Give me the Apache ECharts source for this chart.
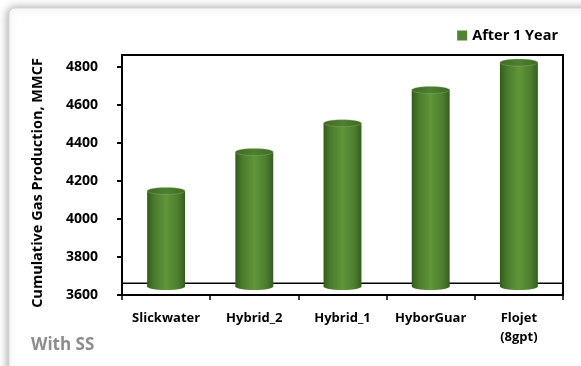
<!DOCTYPE html>
<html>
<head>
<meta charset="utf-8">
<script src="https://cdn.jsdelivr.net/npm/echarts@6/dist/echarts.min.js"></script>
<style>
  html, body { margin: 0; padding: 0; background: #fff; }
  #chart { width: 581px; height: 366px; }
</style>
</head>
<body>
<div id="chart"></div>
<script>
// Fracturing fluid systems compared
const categories = ['Slickwater', 'Hybrid_2', 'Hybrid_1', 'HyborGuar', 'Flojet\n(8gpt)'];
// Cumulative gas production after one year, MMCF
const afterOneYear = [4148, 4353, 4505, 4680, 4824];
// Value-axis ticks
const yTicks = [3600, 3800, 4000, 4200, 4400, 4600, 4800];

const Y_MIN = 3600, Y_MAX = 4864, Y_STEP = 200;
const FLOOR = 3662;      // back edge of the 3D floor
const BAR_BASE = 3645;   // where the cylinders stand

const FONT = '"Open Sans", "Noto Sans", sans-serif';

const chart = echarts.init(document.getElementById('chart'));

const bodyFill = new echarts.graphic.LinearGradient(0, 0, 1, 0, [
  { offset: 0, color: '#345a1d' },
  { offset: 0.18, color: '#4a7a2c' },
  { offset: 0.5, color: '#609639' },
  { offset: 0.82, color: '#4c7d2e' },
  { offset: 1, color: '#365c1f' }
]);
const capFill = new echarts.graphic.LinearGradient(0, 0, 1, 0, [
  { offset: 0, color: '#3f6a25' },
  { offset: 0.5, color: '#4f7f30' },
  { offset: 1, color: '#3f6a25' }
]);

function cylinder(params, api) {
  const idx = api.value(0);
  const val = api.value(1);
  const top = api.coord([idx, val]);
  const base = api.coord([idx, BAR_BASE]);
  const w = api.size([1, 0])[0] * 0.43;
  const rx = w / 2, ry = 3.5;
  return {
    type: 'group',
    children: [
      { type: 'ellipse', shape: { cx: base[0], cy: base[1], rx: rx, ry: ry }, style: { fill: bodyFill } },
      { type: 'rect', shape: { x: top[0] - rx, y: top[1], width: w, height: base[1] - top[1] }, style: { fill: bodyFill } },
      { type: 'ellipse', shape: { cx: top[0], cy: top[1], rx: rx, ry: ry }, style: { fill: capFill, stroke: 'rgba(150,190,120,0.6)', lineWidth: 0.6 } }
    ]
  };
}

// back edge of the floor, spanning the plot width
function floorEdge(params, api) {
  const cs = params.coordSys;
  const y = api.coord([0, api.value(0)])[1];
  return {
    type: 'line',
    shape: { x1: cs.x, y1: y, x2: cs.x + cs.width, y2: y },
    style: { stroke: '#000', lineWidth: 1.5 }
  };
}

chart.setOption({
  animation: false,
  backgroundColor: '#ffffff',
  graphic: [
    {
      type: 'rect', z: -10,
      shape: { x: 9, y: 8, width: 640, height: 420, r: 6 },
      style: { fill: '#fff', stroke: '#d6d6d6', lineWidth: 1, shadowBlur: 8, shadowColor: 'rgba(0,0,0,0.35)', shadowOffsetX: -1, shadowOffsetY: 0 }
    },
    {
      type: 'text', x: 38, y: 183, rotation: Math.PI / 2,
      style: { text: 'Cumulative Gas Production, MMCF', font: 'bold 14.5px ' + FONT, fill: '#000', align: 'center', verticalAlign: 'middle' }
    },
    {
      type: 'text', left: 31, top: 337,
      style: { text: 'With SS', font: 'bold 17px ' + FONT, fill: '#8c8c8c' }
    }
  ],
  legend: {
    right: 18, top: 23,
    itemWidth: 10, itemHeight: 10, itemGap: 3,
    icon: 'rect',
    textStyle: { fontFamily: FONT, fontWeight: 'bold', fontSize: 14.5, color: '#000' },
    data: [{ name: 'After 1 Year', itemStyle: { color: '#4f8431' } }]
  },
  grid: {
    left: 122, right: 18, top: 55, bottom: 71,
    show: true, borderColor: '#000', borderWidth: 2, backgroundColor: 'transparent'
  },
  xAxis: {
    type: 'category',
    data: categories,
    axisLine: { lineStyle: { color: '#000', width: 2 } },
    axisTick: { show: true, alignWithLabel: false, interval: 0, length: 5, lineStyle: { color: '#000', width: 1.5 } },
    axisLabel: { interval: 0, margin: 14, color: '#000', fontFamily: FONT, fontWeight: 'bold', fontSize: 13, lineHeight: 19 }
  },
  yAxis: {
    type: 'value',
    min: Y_MIN, max: Y_MAX, interval: Y_STEP,
    splitLine: { show: false },
    axisLine: { show: true, lineStyle: { color: '#000', width: 2 } },
    axisTick: { show: true, length: 5, lineStyle: { color: '#000', width: 2 }, customValues: yTicks },
    axisLabel: { margin: 24, color: '#000', fontFamily: FONT, fontWeight: 'bold', fontSize: 14, customValues: yTicks, formatter: v => String(v) }
  },
  series: [
    {
      type: 'custom', silent: true, z: 1,
      renderItem: floorEdge,
      data: [[FLOOR]]
    },
    {
      name: 'After 1 Year',
      type: 'custom',
      renderItem: cylinder,
      encode: { x: 0, y: 1 },
      data: afterOneYear.map((v, i) => [i, v]),
      itemStyle: { color: '#4f8431' },
      z: 10
    }
  ]
});
</script>
</body>
</html>
